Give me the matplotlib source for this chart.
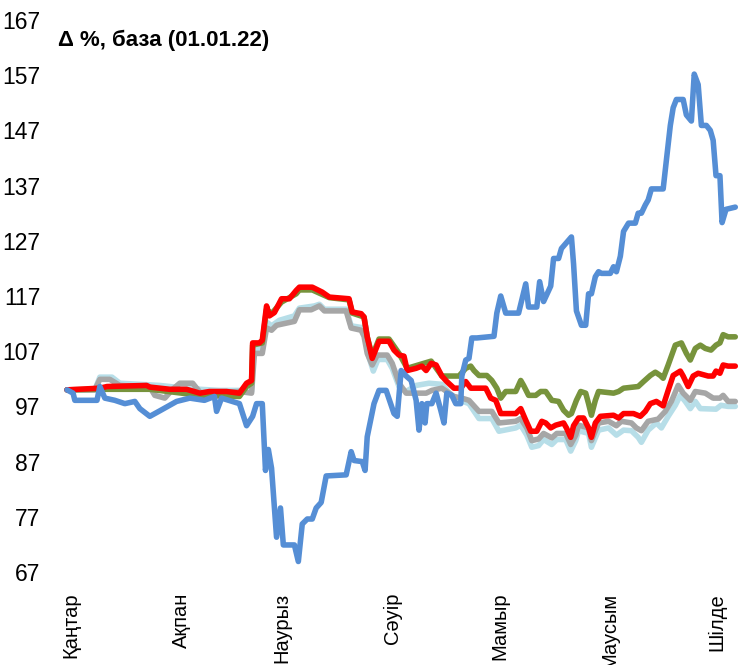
import matplotlib
matplotlib.use("Agg")
import matplotlib.pyplot as plt
from matplotlib.transforms import ScaledTranslation

# Tick labels / categories
month_labels = ["Қаңтар", "Ақпан", "Наурыз", "Сәуір", "Мамыр", "Маусым", "Шілде"]
month_days = [0, 31, 59, 90, 120, 151, 181]
y_ticks = list(range(67, 168, 10))

# Blue series
blue_days = [0, 1.7, 2.2, 8.4, 9.2, 10.6, 13.4, 16.2, 19, 20.4, 23.2, 26, 30.7, 34.4, 38.5, 41.3, 41.9, 43.3,
             48.3, 50.3, 52, 53.1, 54.7, 55.6, 56.4, 57.3, 58.7, 59.8, 60.6, 63.7, 64.8, 65.9, 67.3, 68.7,
             69.8, 71.2, 72.6, 78.2, 79.6, 80.4, 82.7, 83.5, 84.1, 86, 87.4, 89.4, 91.6, 92.5, 93.6, 95,
             96.4, 97.8, 98.6, 99.4, 100.3, 100.8, 102.2, 103.4, 104.7, 105.6, 106.4, 107.8, 108.9, 110.3,
             110.6, 111.7, 112.6, 113.4, 114.8, 119.6, 120.4, 121.5, 122.9, 126.5, 128.5, 129.3, 131.6,
             132.4, 133.5, 135.5, 136.3, 137.7, 138.5, 139.7, 141.3, 141.9, 142.7, 144.1, 145.3, 146.1,
             146.9, 148, 148.9, 149.7, 152.2, 153.1, 153.9, 155, 155.9, 157.3, 159.2, 160, 160.9, 162,
             162.8, 163.7, 167, 167.9, 169, 169.8, 170.7, 172.6, 173.5, 174.9, 175.7, 176.8, 177.7, 179.1,
             180.2, 181, 181.8, 182.9, 183.5, 184.6, 187.2]
blue_vals = [100, 99.4, 98.1, 98.1, 100.6, 98.5, 98.1, 97.5, 97.9, 96.6, 95.2, 96.2, 97.9, 98.5, 98.1, 98.8,
             96.1, 98.5, 97.5, 93.5, 95.2, 97.5, 97.5, 85.4, 89.2, 85.8, 73.3, 78.6, 71.9, 71.9, 68.9, 75.7,
             76.6, 76.6, 78.6, 79.6, 84.4, 84.6, 88.8, 87.2, 87.0, 85.4, 91.5, 97.5, 99.9, 99.9, 95.7, 95.2,
             103.5, 102.5, 101.7, 98.1, 92.7, 97.5, 94.0, 97.5, 97.5, 99.4, 96.3, 94.0, 99.4, 99.0, 97.5,
             97.5, 102.5, 105.4, 105.7, 109.4, 109.4, 109.7, 113.9, 117.0, 113.9, 113.9, 119.2, 115.0, 115.0,
             119.6, 116.0, 118.8, 123.8, 123.8, 125.6, 126.5, 127.7, 122.8, 114.3, 111.7, 111.7, 117.4,
             117.4, 120.5, 121.4, 121.1, 121.1, 122.3, 121.4, 124.2, 128.7, 130.2, 130.2, 132.0, 132.0, 133.5,
             134.4, 136.4, 136.4, 141.6, 147.9, 151.1, 152.6, 152.6, 149.8, 148.7, 157.2, 155.3, 147.9, 147.9,
             147.0, 145.2, 138.8, 138.8, 130.3, 132.7, 133.1]

# Red series
red_days = [0, 9.2, 11.2, 22.3, 23.2, 28.8, 33.5, 37.2, 39.9, 44.7, 48.3, 50.3, 51.7, 52, 53.9, 54.7, 55.9,
            56.7, 58.1, 60.1, 62.3, 64.2, 65.1, 68.7, 71.5, 73.5, 79, 79.9, 82.4, 83.2, 84.1, 85.5, 87.4,
            90.2, 91.6, 93, 94.4, 95.3, 97.8, 99.4, 100.6, 102, 103.4, 105, 106.4, 108.4, 110.3, 111.7,
            113.1, 117.3, 118.7, 120.1, 121.5, 125.7, 127.1, 128.5, 129.9, 131.6, 133, 134.1, 135.5, 136.9,
            139.1, 139.9, 141.1, 141.9, 143.3, 144.7, 146.1, 146.9, 148, 149.4, 153.1, 154.5, 155.9, 158.7,
            160.6, 162, 163.4, 165.1, 167, 168.4, 169.8, 171.8, 172.6, 174, 175.4, 176.8, 179.6, 181, 181.8,
            182.9, 183.8, 185.2, 187.2]
red_vals = [100, 100.3, 100.6, 100.8, 100.5, 100.1, 100.1, 99.4, 99.7, 99.7, 99.4, 101.2, 101.7, 108.5, 108.5,
            109.0, 115.2, 113.4, 114.0, 116.5, 116.5, 118.0, 118.6, 118.6, 117.7, 116.8, 116.5, 114.1, 113.8,
            113.2, 109.6, 105.7, 108.8, 108.8, 107.2, 106.3, 106.1, 103.5, 103.9, 104.3, 103.5, 104.8, 104.5,
            102.5, 101.5, 100.3, 100.3, 101.5, 100.3, 100.3, 98.5, 98.1, 95.7, 95.7, 96.6, 94.5, 92.5, 92.5,
            94.3, 94.0, 93.1, 93.6, 94.0, 93.1, 91.4, 93.5, 94.9, 94.9, 93.1, 91.4, 94.0, 95.2, 95.4, 94.9,
            95.7, 95.7, 95.2, 96.1, 97.5, 97.9, 97.1, 99.9, 102.6, 103.4, 102.5, 100.6, 102.5, 103.0, 102.5,
            102.5, 103.4, 103.0, 104.5, 104.3, 104.3]

# Green series
green_days = [0, 9.2, 23.2, 37.2, 48.3, 50.3, 51.7, 52, 54.7, 55.9, 57.3, 60.1, 64.2, 65.1, 68.7, 73.5, 79,
              79.9, 83.2, 84.1, 85.5, 87.4, 90.2, 93, 95.3, 102, 105, 109.8, 111.7, 113.1, 114, 115.4, 117.6,
              119, 120.4, 121.5, 122.9, 125.7, 127.1, 127.9, 129.3, 131.3, 132.7, 134.1, 135.8, 137.7, 139.1,
              140.5, 141.3, 142.7, 143.9, 145.3, 146.1, 146.9, 148, 148.9, 153.1, 154.5, 155.9, 160, 161.5,
              163.4, 164.8, 166.2, 167, 168.4, 170.4, 172.1, 173.5, 174.6, 176, 177.4, 178.8, 180.4, 181.8,
              182.9, 183.8, 185.2, 187.2]
green_vals = [100, 100.1, 100.1, 99.0, 98.8, 100.6, 101.2, 108.1, 108.5, 114.6, 113.8, 115.9, 117.4, 118.1,
              118.1, 116.7, 116.3, 113.9, 113.2, 109.6, 106.1, 109.2, 109.2, 106.6, 103.9, 105.2, 102.5, 102.5,
              103.9, 104.3, 103.5, 102.6, 102.6, 101.7, 100.3, 98.5, 99.7, 99.7, 101.7, 100.8, 99.0, 99.0, 99.7,
              99.7, 98.1, 97.9, 96.3, 95.4, 95.7, 98.1, 99.7, 99.4, 97.5, 95.4, 98.1, 99.7, 99.4, 99.7, 100.3,
              100.6, 101.5, 102.6, 103.2, 102.6, 102.1, 104.5, 108.1, 108.5, 106.6, 105.4, 107.5, 108.1, 107.5,
              107.2, 108.1, 108.5, 110.0, 109.6, 109.6]

# Gray series
gray_days = [0, 7.8, 9.2, 12, 14.8, 23.2, 24.6, 27.4, 29.6, 31.6, 35.2, 36.3, 38, 41.3, 48.3, 51.7, 52.5, 54.7,
             55.9, 57.3, 58.7, 63.7, 65.1, 68.4, 70.7, 72.1, 78.2, 79.6, 82.4, 83.2, 84.1, 85.5, 86.9, 89.7,
             91.1, 93, 95, 100.6, 102.2, 105, 108.4, 110.6, 112.6, 115.4, 119, 121, 125.7, 127.1, 128.8, 130.2,
             132.1, 133.5, 135.8, 137.2, 139.7, 141.1, 142.5, 143.3, 146.1, 146.9, 148.9, 151.7, 153.9, 155.3,
             158.1, 159.5, 160.9, 162.8, 165.6, 167.6, 169.3, 171.2, 172.6, 174.6, 176, 178.8, 181, 182.9,
             183.8, 185.2, 187.2]
gray_vals = [100, 100, 101.9, 101.9, 100.8, 100.5, 99.0, 98.5, 100.1, 101.2, 101.2, 100.3, 99.0, 99.5, 99.7,
             99.4, 106.6, 106.6, 111.2, 110.8, 111.7, 112.4, 114.5, 114.5, 115.2, 114.3, 114.3, 111.2, 110.8,
             109.7, 106.6, 104.5, 106.3, 106.3, 104.8, 101.2, 99.4, 99.4, 99.9, 100.3, 98.8, 98.5, 98.1, 96.1,
             96.1, 94.0, 94.3, 94.8, 93.1, 90.8, 91.1, 92.1, 91.3, 92.1, 92.1, 90.1, 91.8, 93.6, 93.1, 90.8,
             94.0, 94.3, 93.5, 94.3, 94.0, 93.1, 92.6, 94.3, 94.7, 96.1, 97.9, 100.8, 99.4, 98.1, 99.7, 99.4,
             98.5, 98.5, 99.0, 97.9, 97.9]

# Light-blue series
lblue_days = [0, 7.8, 9.2, 12.6, 14.8, 26, 30.2, 34.4, 37.2, 42.7, 48.3, 51.7, 52.2, 54.7, 55.9, 57.3, 59.5,
              63.7, 65.1, 69.3, 70.7, 72.1, 78.2, 79.6, 82.4, 83.5, 84.4, 85.8, 87.1, 89.7, 91.1, 93, 95, 97.8,
              101.4, 105, 108.4, 112.6, 115.4, 119, 121, 125.7, 127.1, 128.8, 130.2, 132.1, 133.5, 135.8,
              137.2, 139.7, 141.1, 142.5, 143.3, 146.1, 146.9, 148.9, 151.7, 153.9, 155.9, 158.1, 160, 160.9,
              162.8, 165.1, 166.5, 168.4, 170.4, 171.8, 173.2, 174.6, 176, 177.4, 181.8, 183.2, 185.2, 187.2]
lblue_vals = [100, 100, 102.3, 102.3, 101.2, 100.8, 100.5, 100.6, 100.1, 99.9, 99.9, 99.7, 107.5, 107.5,
              112.3, 111.6, 112.6, 113.4, 114.8, 115.2, 115.5, 114.6, 114.6, 111.6, 111.3, 109.7, 106.3, 103.4,
              105.5, 105.5, 103.9, 100.6, 99.7, 100.8, 101.2, 101.0, 98.5, 97.5, 94.8, 94.8, 92.5, 93.1, 93.6,
              91.8, 89.6, 89.9, 91.0, 90.1, 91.0, 91.0, 88.9, 90.8, 92.6, 92.1, 89.6, 92.7, 93.1, 91.8, 92.7,
              92.6, 91.4, 90.5, 92.7, 94.0, 93.1, 95.2, 97.2, 99.0, 97.9, 96.6, 97.9, 96.6, 96.5, 97.2, 97.0,
              97.0]

W, H = 738, 665
fig = plt.figure(figsize=(W / 100, H / 100), dpi=100)
ax = fig.add_axes([67 / W, 1 - 572 / H, (736 - 67) / W, (572 - 20) / H])

lw = 4.0
series = [
    (lblue_days, lblue_vals, "#B7DEE8"),
    (gray_days, gray_vals, "#A6A6A6"),
    (green_days, green_vals, "#77933C"),
    (red_days, red_vals, "#FF0000"),
    (blue_days, blue_vals, "#558ED5"),
]
for d, v, c in series:
    ax.plot(d, v, color=c, lw=lw, solid_joinstyle="round", solid_capstyle="round", clip_on=False)

ax.set_xlim(0, 187.4)
ax.set_ylim(67, 167)
ax.set_yticks(y_ticks)
ax.set_yticklabels([str(v) for v in y_ticks], fontsize=16.5,
                   family=["Liberation Sans Narrow", "Liberation Sans", "DejaVu Sans"])
ax.set_xticks(month_days)
ax.set_xticklabels(month_labels, rotation=90, fontsize=14.5,
                   family=["Liberation Sans", "DejaVu Sans"])
ax.tick_params(axis="y", length=0, pad=19)
ax.tick_params(axis="x", length=0, pad=15)
shift = ScaledTranslation(4 / 100, 0, fig.dpi_scale_trans)
for lbl in ax.get_xticklabels():
    lbl.set_transform(lbl.get_transform() + shift)
for s in ax.spines.values():
    s.set_visible(False)

fig.text(58 / W, 1 - 40 / H, "Δ %, база (01.01.22)", fontsize=16, fontweight="bold",
         family=["Liberation Sans Narrow", "Liberation Sans", "DejaVu Sans"], va="center", ha="left")

fig.savefig("out.png", dpi=100)
